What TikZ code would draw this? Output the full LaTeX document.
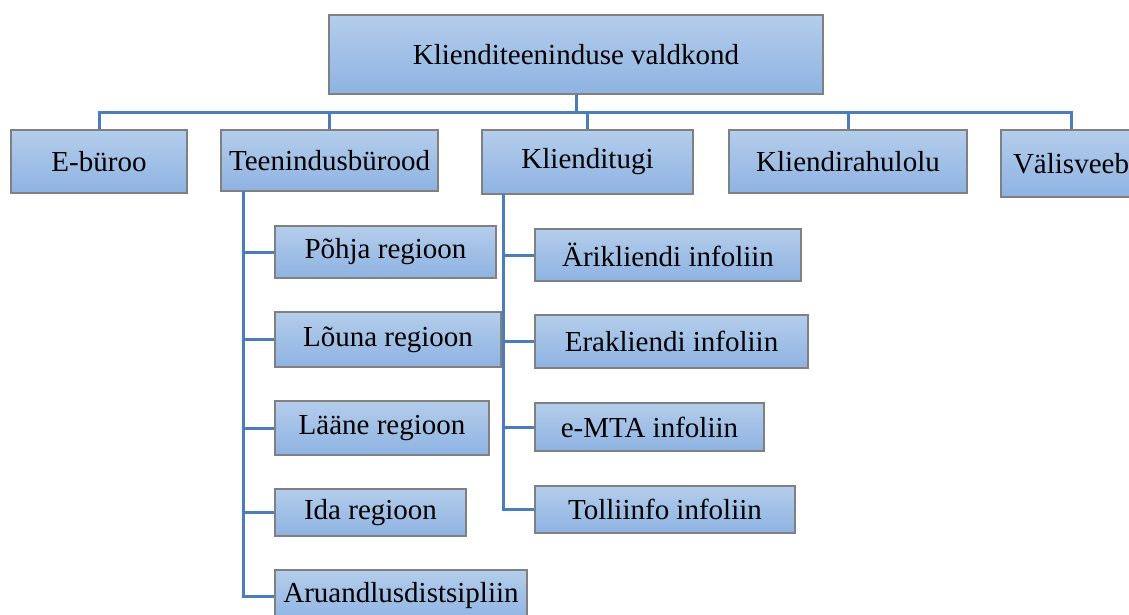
\documentclass[tikz,border=0pt]{standalone}
\usepackage{fontspec}
\setmainfont{Liberation Serif}
\usetikzlibrary{positioning}
\definecolor{boxtop}{RGB}{180,205,235}
\definecolor{boxbottom}{RGB}{142,179,226}
\definecolor{boxline}{RGB}{128,128,128}
\definecolor{linkblue}{RGB}{74,126,187}
\tikzset{box/.style={
            draw=boxline,
            top color=boxtop,
            bottom color=boxbottom,
            line width=1.2pt,
            inner sep=0pt,
            font=\fontsize{29}{34}\selectfont
        },
        link/.style={
            draw=linkblue,
            line width=3pt
        }
    }
\begin{document}
\begin{tikzpicture}[x=1pt,y=-1pt]
        \useasboundingbox (0,0) rectangle (1129,615);
        \clip (0,0) rectangle (1129,615);
        % top
        \node[box,minimum width=494pt,minimum height=79pt] at (576,54.5) (top) {Klienditeeninduse valdkond};
        % second row
        \node[box,minimum width=176pt,minimum height=63pt] at (99,161.5) (ebyroo) {E-büroo};
        \node[box,minimum width=217pt,minimum height=61pt] at (329.5,160.5) (teenindus) {Teenindusbürood};
        \node[box,minimum width=211pt,minimum height=64pt] at (587.5,162) (klienditugi) {Klienditugi};
        \node[box,minimum width=238pt,minimum height=63pt] at (848,161.5) (rahulolu) {Kliendirahulolu};
        \node[box,minimum width=140pt,minimum height=67pt] at (1071,163.5) (valisveeb) {Välisveeb};
        % regions
        \node[box,minimum width=221pt,minimum height=52pt] at (385.5,252) (pohja) {Põhja regioon};
        \node[box,minimum width=226pt,minimum height=55pt] at (388,339.5) (louna) {Lõuna regioon};
        \node[box,minimum width=214pt,minimum height=54pt] at (382,428) (laane) {Lääne regioon};
        \node[box,minimum width=191pt,minimum height=47pt] at (370.5,512.5) (ida) {Ida regioon};
        \node[box,minimum width=252pt,minimum height=52pt] at (401,596) (aruandlus) {Aruandlusdistsipliin};
        % info lines
        \node[box,minimum width=266pt,minimum height=52pt] at (668,255) (ariklient) {Ärikliendi infoliin};
        \node[box,minimum width=273pt,minimum height=53pt] at (671.5,341.5) (eraklient) {Erakliendi infoliin};
        \node[box,minimum width=229pt,minimum height=48pt] at (649.5,427) (emta) {e-MTA infoliin};
        \node[box,minimum width=260pt,minimum height=47pt] at (665,509.5) (tolliinfo) {Tolliinfo infoliin};
        % connectors
        \foreach \n in {ebyroo,teenindus,klienditugi,rahulolu,valisveeb}
            \draw[link] (top.south) -- ++(0,18) -| (\n.north);
        \coordinate (tbase) at (243,191);
        \coordinate (kbase) at (503,194);
        \foreach \n in {pohja,louna,laane,ida,aruandlus}
            \draw[link] (tbase) |- (\n.west);
        \foreach \n in {ariklient,eraklient,emta,tolliinfo}
            \draw[link] (kbase) |- (\n.west);
    \end{tikzpicture}
\end{document}
